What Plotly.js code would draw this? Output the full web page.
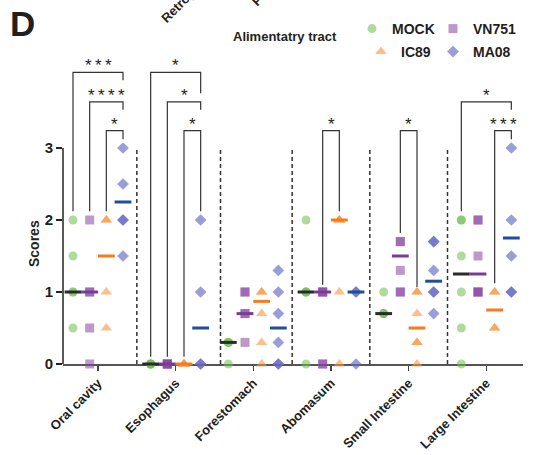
<!DOCTYPE html>
<html><head><meta charset="utf-8">
<script src="https://cdn.plot.ly/plotly-3.0.1.min.js"></script>
<style>html,body{margin:0;padding:0;background:#fff}#chart{width:537px;height:455px}</style>
</head><body><div id="chart"></div>
<script>
// ---- data ----
const groups = ["Oral cavity","Esophagus","Forestomach","Abomasum","Small Intestine","Large Intestine"];
const seriesNames = ["MOCK","VN751","IC89","MA08"];

const mockScores  = [[2,1.5,1,1,0.5],[0,0,0,0],[0.3,0.3,0.3,0],[2,1,1,1,0],[1,0.7,0.7,0.7],[2,2,1.5,1,0.5,0]];
const vn751Scores = [[2,1,1,0.5,0],[0,0,0,0],[1,1,0.7,0.7,0.3],[1,1,1,0,0],[1.7,1.7,1.3,1,1],[2,2,1.5,1,1,1]];
const ic89Scores  = [[2,2,1,0.5],[0,0,0,0],[1,1,0.7,0.3,0],[2,2,2,1,0],[1,1,0.7,0.3,0.3,0],[1,1,0.5,0.5]];
const ma08Scores  = [[3,2.5,2,2,1.5],[2,1,0,0],[1.3,1,0.7,0.3,0,0],[1,1,0],[1.7,1.7,1.3,1,1,0.7],[3,2,1.5,1,1]];

const mockMedian  = [1, 0, 0.3, 1, 0.7, 1.25];
const vn751Median = [1, 0, 0.7, 1, 1.5, 1.25];
const ic89Median  = [1.5, 0, 0.87, 2, 0.5, 0.75];
const ma08Median  = [2.25, 0.5, 0.5, 1, 1.15, 1.75];

const yTickVals = [0,1,2,3];

// significance brackets: group, series from, series to, label
const bracketGroup = [0,0,0,1,1,1,3,4,5,5];
const bracketFrom  = [0,1,2,0,1,2,1,1,0,2];
const bracketTo    = [3,3,3,3,3,3,2,2,3,3];
const bracketLabel = ["***","****","*","*","*","*","*","*","*","***"];

// ---- layout constants ----
const W=537, H=455, L=63, R=14, T=33, B=91;
const plotW = W-L-R, plotH = H-T-B;
const G = 4.66;              // group stride in x units
const yTop = (364-33)/72;
const bracketLevel = [4.05,3.64,3.24,4.05,3.64,3.24,3.24,3.24,3.64,3.24];
const bracketLeftEnd  = [2.12,2.12,2.12,0.1,0.1,0.1,1.1,1.82,2.12,1.12];
const bracketRightEnd = [3.94,3.53,3.12,3.76,3.53,2.12,2.12,1.07,3.53,3.12];
const dividers = [3.83, 8.85, 13.15, 17.81, 22.47];

const FONT = "Liberation Sans, Arial, Helvetica, sans-serif";
const TXT = "#231f20";
const px2x = px => (px-L)/plotW;
const px2y = py => (H-B-py)/plotH;

const allScores = [mockScores, vn751Scores, ic89Scores, ma08Scores];
const allMedians = [mockMedian, vn751Median, ic89Median, ma08Median];
const styles = [
  {symbol:'circle', size:9, color:'rgb(110,190,80)', opacity:0.55, med:'#2b2b2b', legend:'legend'},
  {symbol:'square', size:9, color:'rgb(135,70,160)', opacity:0.55, med:'#7b3a96', legend:'legend2'},
  {symbol:'triangle-up', size:10, color:'rgb(248,150,60)', opacity:0.6, med:'#f47b20', legend:'legend3'},
  {symbol:'diamond', size:9, color:'rgb(100,105,195)', opacity:0.65, med:'#1f4e9c', legend:'legend4'}
];

const traces = [];
allScores.forEach((ser, s) => {
  const xs = [], ys = [];
  ser.forEach((vals, g) => vals.forEach(v => { xs.push(g*G + s); ys.push(v); }));
  const st = styles[s];
  traces.push({
    type:'scatter', mode:'markers', x:xs, y:ys, name:seriesNames[s],
    legend: st.legend, cliponaxis:false, hoverinfo:'skip',
    marker:{symbol:st.symbol, size:st.size, color:st.color, opacity:st.opacity, line:{width:0}}
  });
});
allMedians.forEach((med, s) => {
  const st = styles[s];
  traces.push({
    type:'scatter', mode:'markers', x:med.map((v,g)=>g*G+s), y:med, showlegend:false,
    cliponaxis:false, hoverinfo:'skip',
    marker:{symbol:'line-ew', size:12, line:{width:3, color:st.med}, color:st.med}
  });
});
// brackets
const bx = [], by = [];
const annotations = [];
bracketGroup.forEach((g, i) => {
  const x1 = g*G + bracketFrom[i], x2 = g*G + bracketTo[i];
  bx.push(x1, x1, x2, x2, null);
  by.push(bracketLeftEnd[i], bracketLevel[i], bracketLevel[i], bracketRightEnd[i], null);
  annotations.push({x:(x1+x2)/2, y:bracketLevel[i], xref:'x', yref:'y', text:bracketLabel[i].split('').join('\u2009'),
    showarrow:false, xanchor:'center', yanchor:'bottom', yshift:-5, font:{family:FONT, size:17, color:TXT}});
});
traces.push({type:'scatter', mode:'lines', x:bx, y:by, showlegend:false, hoverinfo:'skip',
  line:{color:'#333', width:1.2}});

annotations.push(
  {xref:'paper', yref:'paper', x:px2x(22), y:px2y(23), text:'D', showarrow:false, xanchor:'center', yanchor:'middle',
   font:{family:FONT, size:35, color:TXT, weight:'bold'}},
  {xref:'paper', yref:'paper', x:px2x(34), y:px2y(244), text:'Scores', textangle:-90, showarrow:false,
   xanchor:'center', yanchor:'middle', font:{family:FONT, size:14, color:TXT, weight:'bold'}},
  {xref:'paper', yref:'paper', x:px2x(285), y:px2y(36), text:'Alimentatry tract', showarrow:false,
   xanchor:'center', yanchor:'middle', font:{family:FONT, size:13, color:TXT, weight:'bold'}},
  {xref:'paper', yref:'paper', x:px2x(155), y:px2y(28), text:'Retrop', textangle:-45, showarrow:false,
   xanchor:'left', yanchor:'bottom', font:{family:FONT, size:13, color:TXT, weight:'bold'}},
  {xref:'paper', yref:'paper', x:px2x(246), y:px2y(12), text:'P', textangle:-45, showarrow:false,
   xanchor:'left', yanchor:'bottom', font:{family:FONT, size:13, color:TXT, weight:'bold'}}
);

const shapes = [
  {type:'line', xref:'paper', yref:'y', x0:0, x1:0, y0:0, y1:3, line:{color:'#222', width:1.5}}
];
dividers.forEach(d => shapes.push({type:'line', xref:'x', yref:'y', x0:d, x1:d, y0:0, y1:3,
  line:{color:'#333', width:1.5, dash:'4px,3px'}}));

const legFont = {family:FONT, size:14, color:TXT, weight:'bold'};
const legBase = {xanchor:'left', yanchor:'middle', font:legFont, bgcolor:'rgba(0,0,0,0)', itemwidth:30, borderwidth:0};
const layout = {
  width:W, height:H, autosize:false,
  margin:{l:L, r:R, t:T, b:B, pad:0},
  paper_bgcolor:'#fff', plot_bgcolor:'#fff',
  showlegend:true,
  legend:  Object.assign({x:px2x(372-20), y:px2y(29)}, legBase),
  legend2: Object.assign({x:px2x(453-20), y:px2y(29)}, legBase),
  legend3: Object.assign({x:px2x(381-20), y:px2y(52)}, legBase),
  legend4: Object.assign({x:px2x(453-20), y:px2y(52)}, legBase),
  xaxis:{range:[-0.6, 27.0], tickvals:groups.map((c,g)=>g*G+1.5), ticktext:groups, tickangle:-45,
    ticks:'outside', ticklen:5, tickwidth:1.2, tickcolor:'#444', showline:true, linecolor:'#555', linewidth:1.5,
    showgrid:false, zeroline:false, layer:'below traces', fixedrange:true,
    tickfont:{family:FONT, size:13, color:TXT, weight:'bold'}},
  yaxis:{range:[0, yTop], tickvals:yTickVals, ticktext:yTickVals.map(String), ticks:'outside', ticklen:6, tickwidth:1.5,
    tickcolor:'#222', showline:false, showgrid:false, zeroline:false, fixedrange:true,
    tickfont:{family:FONT, size:15, color:TXT, weight:'bold'}},
  shapes:shapes, annotations:annotations
};
Plotly.newPlot('chart', traces, layout, {staticPlot:true, displayModeBar:false});
</script></body></html>
